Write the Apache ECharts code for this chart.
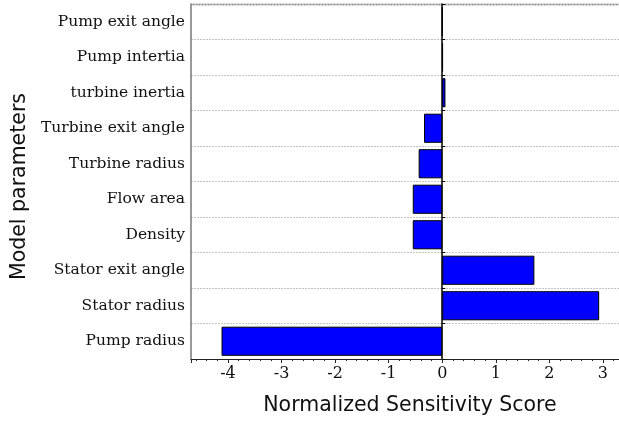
<!DOCTYPE html>
<html>
<head>
<meta charset="utf-8">
<script src="https://cdn.jsdelivr.net/npm/echarts@6/dist/echarts.min.js"></script>
<style>
  html, body { margin: 0; padding: 0; background: #fff; }
  #chart { width: 619px; height: 421px; }
</style>
</head>
<body>
<div id="chart"></div>
<script>
// Model parameters, listed bottom to top as they appear on the category axis
const parameters = [
  'Pump radius',
  'Stator radius',
  'Stator exit angle',
  'Density',
  'Flow area',
  'Turbine radius',
  'Turbine exit angle',
  'turbine inertia',
  'Pump intertia',
  'Pump exit angle'
];

// Normalized sensitivity score of each parameter
const scores = [-4.12, 2.93, 1.72, -0.55, -0.55, -0.44, -0.34, 0.06, 0.012, 0.004];

const xRange = [-4.69, 3.30];

const serif = '"DejaVu Serif", serif';
const sans = '"DejaVu Sans", sans-serif';

const chart = echarts.init(document.getElementById('chart'), null, { renderer: 'canvas' });

chart.setOption({
  animation: false,
  backgroundColor: '#fff',
  grid: { left: 191, right: 0, top: 4, bottom: 62, containLabel: false },
  xAxis: {
    type: 'value',
    min: xRange[0],
    max: xRange[1],
    minInterval: 1,
    maxInterval: 1,
    name: 'Normalized Sensitivity Score',
    nameLocation: 'middle',
    nameGap: 36,
    nameTextStyle: { fontFamily: sans, fontSize: 20.5, color: '#111', padding: [0, 0, 0, 10] },
    axisLine: { show: true, onZero: false, lineStyle: { color: '#222', width: 1 } },
    axisTick: { show: true, inside: false, length: 4, lineStyle: { color: '#222' } },
    minorTick: { show: true, splitNumber: 5, length: 2, lineStyle: { color: '#222' } },
    axisLabel: {
      showMinLabel: false,
      showMaxLabel: false,
      margin: 7,
      fontFamily: serif,
      fontSize: 16,
      color: '#111'
    },
    splitLine: { show: false }
  },
  yAxis: [
    {
      type: 'category',
      data: parameters,
      position: 'left',
      name: 'Model parameters',
      nameLocation: 'middle',
      nameRotate: 90,
      nameGap: 159,
      nameTextStyle: { fontFamily: sans, fontSize: 20.5, color: '#111', padding: [0, 10, 0, 0] },
      axisLine: { show: true, onZero: false, lineStyle: { color: '#777', width: 1.5 } },
      axisTick: { show: false },
      axisLabel: { margin: 6, fontFamily: serif, fontSize: 15.5, color: '#111' },
      splitLine: { show: true, lineStyle: { color: '#c4c4c4', type: [2, 1], width: 1 } }
    },
    {
      // vertical zero line through the value axis
      type: 'category',
      data: parameters,
      position: 'left',
      axisLine: { show: true, onZero: true, lineStyle: { color: '#000', width: 1.5 } },
      axisTick: { show: true, inside: true, length: 3, lineStyle: { color: '#000' } },
      axisLabel: { show: false },
      splitLine: { show: false }
    }
  ],
  graphic: [
    {
      type: 'line',
      shape: { x1: 191, y1: 4.5, x2: 619, y2: 4.5 },
      style: { stroke: '#777', lineWidth: 1.5 },
      silent: true
    }
  ],
  series: [
    {
      type: 'bar',
      yAxisIndex: 0,
      data: scores,
      barCategoryGap: '18%',
      itemStyle: { color: '#0000ff', borderColor: '#000', borderWidth: 1 },
      z: 1
    }
  ]
});
</script>
</body>
</html>
